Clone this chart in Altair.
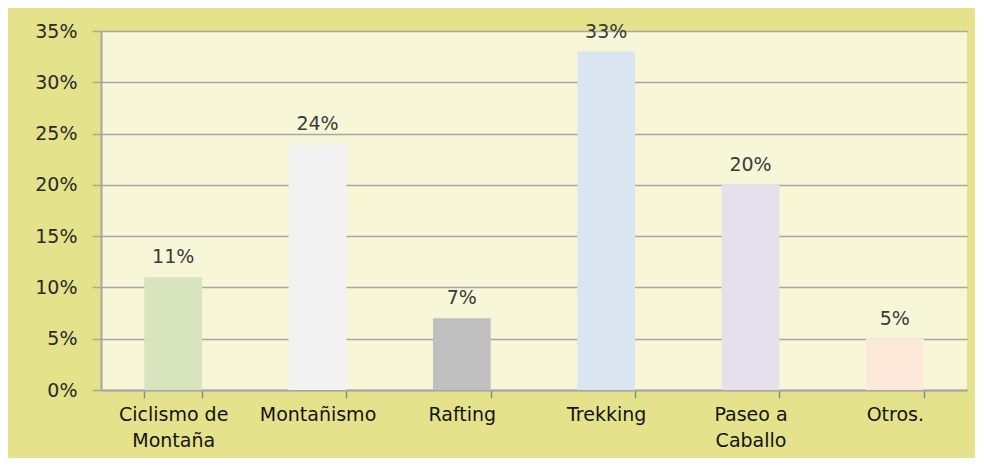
import altair as alt
import pandas as pd

categories = ["Ciclismo de\nMontaña", "Montañismo", "Rafting", "Trekking", "Paseo a\nCaballo", "Otros."]
values = [0.11, 0.24, 0.07, 0.33, 0.20, 0.05]
bar_colors = ["#D7E4BD", "#F2F2F2", "#BFBFBF", "#DBE5F1", "#E5E0EC", "#FDE9D9"]
y_ticks = [0, 0.05, 0.10, 0.15, 0.20, 0.25, 0.30, 0.35]

df = pd.DataFrame({"cat": categories, "val": values})

FONT = "DejaVu Sans"

x_enc = alt.X(
    "cat:N",
    sort=None,
    title=None,
    scale=alt.Scale(paddingInner=0.6, paddingOuter=0.3),
    axis=alt.Axis(
        labelAngle=0,
        labelExpr="split(datum.label, '\\n')",
        labelFontSize=19,
        labelFont=FONT,
        labelColor="#141414",
        labelLineHeight=26,
        labelPadding=7,
        labelBaseline="top",
        tickBand="extent",
        tickSize=8,
        tickColor="#8C8C8C",
        tickWidth=1.5,
        domainColor="#A6A6A6",
        domainWidth=2,
        grid=False,
    ),
)

y_enc = alt.Y(
    "val:Q",
    title=None,
    scale=alt.Scale(domain=[0, 0.35], nice=False),
    axis=alt.Axis(
        values=y_ticks,
        format=".0%",
        labelFontSize=19,
        labelFont=FONT,
        labelColor="#2A2A2A",
        labelPadding=15,
        tickSize=9,
        tickColor="#A6A6A6",
        tickWidth=1.5,
        domainColor="#A6A6A6",
        domainWidth=2,
        grid=True,
        gridColor="#A6A6A6",
        gridWidth=1.5,
    ),
)

bars = alt.Chart(df).mark_bar().encode(
    x=x_enc,
    y=y_enc,
    color=alt.Color("cat:N", sort=None, scale=alt.Scale(domain=categories, range=bar_colors), legend=None),
)

labels = alt.Chart(df).mark_text(
    dy=-14, baseline="alphabetic", fontSize=19, font=FONT, color="#3A3A3A"
).encode(
    x=alt.X("cat:N", sort=None),
    y=alt.Y("val:Q"),
    text=alt.Text("val:Q", format=".0%"),
)

chart = (
    alt.layer(bars, labels)
    .properties(
        width=866,
        height=359,
        autosize=alt.AutoSizeParams(type="none"),
        padding={"left": 93, "top": 23, "right": 8, "bottom": 68},
        background="#E4E38B",
    )
    .configure_view(fill="#F7F7D8", strokeWidth=0)
)

chart.save("out.html", embed_options={"renderer": "svg", "actions": False})
